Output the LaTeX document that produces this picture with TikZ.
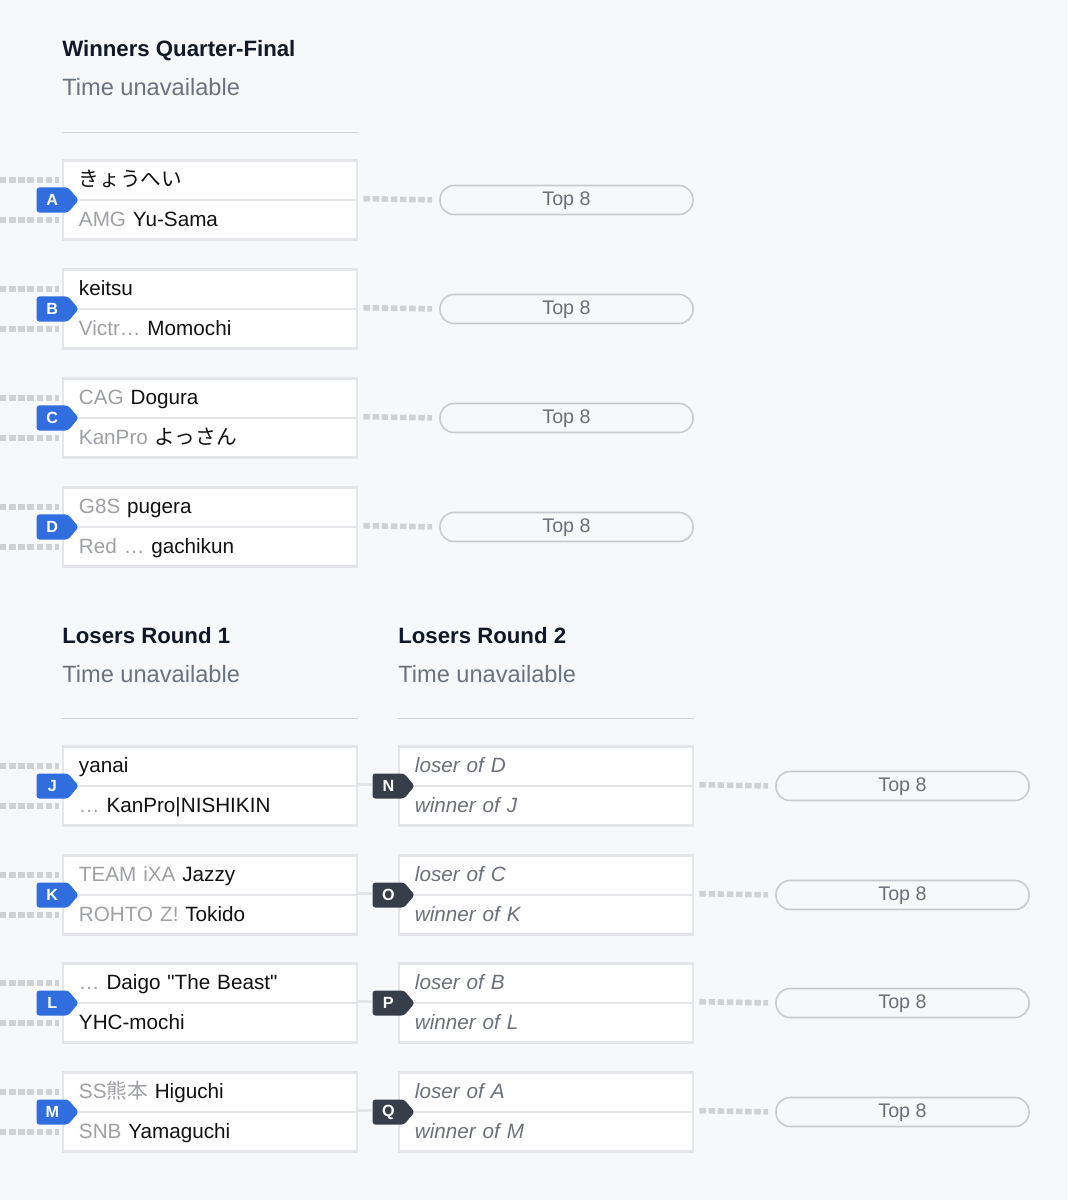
\documentclass[tikz,border=0pt]{standalone}
\usepackage{fontspec}
\setmainfont{Liberation Sans}
\newfontfamily\jpfont{Noto Sans CJK JP}
\newfontfamily\quotefont{Liberation Sans}
\usetikzlibrary{shapes.symbols, positioning}
\definecolor{bgpage}{RGB}{247, 248, 250}
\definecolor{boxline}{RGB}{228, 229, 232}
\definecolor{dashgray}{RGB}{208, 209, 212}
\definecolor{pillline}{RGB}{200, 202, 206}
\definecolor{pilltext}{RGB}{107, 112, 120}
\definecolor{headtext}{RGB}{17, 24, 39}
\definecolor{subtext}{RGB}{107, 114, 128}
\definecolor{rulegray}{RGB}{209, 213, 219}
\definecolor{badgeblue}{RGB}{48, 109, 223}
\definecolor{badgedark}{RGB}{55, 61, 73}
\definecolor{teamgray}{RGB}{158, 160, 165}
\definecolor{nametext}{RGB}{17, 17, 17}
\definecolor{italgray}{RGB}{108, 112, 120}

\begin{document}
\begin{tikzpicture}[x=0.025cm, y=-0.025cm,
  slot/.style={draw=boxline, line width=2pt, fill=white, text width=6.55cm, inner xsep=0.4cm, inner ysep=0pt, minimum height=0.9875cm, text height=11.5pt, text depth=2.5pt, align=left, text=nametext, font=\fontsize{14.7}{18}\selectfont},
  tbd/.style={slot, text=italgray, font=\itshape\fontsize{14.7}{18}\selectfont},
  tag/.style={signal, signal to=east, signal pointer angle=100, fill=badgeblue, text=white, rounded corners=2pt, minimum height=0.625cm, text width=0.55cm, align=center, inner xsep=1.2mm, inner ysep=0pt, anchor=east, font=\bfseries\fontsize{11.5}{12}\selectfont},
  tagdark/.style={tag, fill=badgedark},
  next/.style={draw=pillline, line width=1.1pt, fill=bgpage, rounded corners=0.35cm, minimum width=6.325cm, minimum height=0.725cm, text height=10pt, text depth=2.2pt, inner ysep=0pt, text=pilltext, font=\fontsize{14}{16}\selectfont},
  head/.style={anchor=base west, inner sep=0pt, text=headtext, font=\bfseries\fontsize{15.8}{18}\selectfont},
  when/.style={anchor=base west, inner sep=0pt, text=subtext, font=\fontsize{16.8}{19}\selectfont},
  rule/.style={draw=rulegray, line width=1.2pt},
  feed/.style={draw=dashgray, line width=4pt, dash pattern=on 4.6pt off 1.9pt},
  link/.style={draw=boxline, line width=2pt}
]
  \useasboundingbox (0,0) rectangle (1067,1200);
  \fill[bgpage] (0,0) rectangle (1067,1200);

  % headings
  \node[head] (wqf-title) at (62,57) {Winners Quarter-Final};
  \node[when] (wqf-time) at (62,96) {Time unavailable};
  \draw[rule] (62,132.5) -- (358,132.5);
  \node[head] (lr1-title) at (62,643) {Losers Round 1};
  \node[when] (lr1-time) at (62,682) {Time unavailable};
  \draw[rule] (62,718.5) -- (358,718.5);
  \node[head] (lr2-title) at (398,643) {Losers Round 2};
  \node[when] (lr2-time) at (398,682) {Time unavailable};
  \draw[rule] (398,718.5) -- (694,718.5);

  % winners quarter-final
  \node[slot] (A-top) at (210,180.25) {{\jpfont きょうへい}};
  \node[slot] (A-bot) at (210,219.75) {{\color{teamgray}AMG} Yu-Sama};
  \node[tag] (A) at (79,200) {A};
  \node[next] (A-next) at (566.5,200) {Top 8};

  \node[slot] (B-top) at (210,289.25) {keitsu};
  \node[slot] (B-bot) at (210,328.75) {{\color{teamgray}Victr…} Momochi};
  \node[tag] (B) at (79,309) {B};
  \node[next] (B-next) at (566.5,309) {Top 8};

  \node[slot] (C-top) at (210,398.25) {{\color{teamgray}CAG} Dogura};
  \node[slot] (C-bot) at (210,437.75) {{\color{teamgray}KanPro} {\jpfont よっさん}};
  \node[tag] (C) at (79,418) {C};
  \node[next] (C-next) at (566.5,418) {Top 8};

  \node[slot] (D-top) at (210,507.25) {{\color{teamgray}G8S} pugera};
  \node[slot] (D-bot) at (210,546.75) {{\color{teamgray}Red …} gachikun};
  \node[tag] (D) at (79,527) {D};
  \node[next] (D-next) at (566.5,527) {Top 8};

  % losers round 1
  \node[slot] (J-top) at (210,766.25) {yanai};
  \node[slot] (J-bot) at (210,805.75) {{\color{teamgray}…} KanPro|NISHIKIN};
  \node[tag] (J) at (79,786) {J};

  \node[slot] (K-top) at (210,875.25) {{\color{teamgray}TEAM iXA} Jazzy};
  \node[slot] (K-bot) at (210,914.75) {{\color{teamgray}ROHTO Z!} Tokido};
  \node[tag] (K) at (79,895) {K};

  \node[slot] (L-top) at (210,983.25) {{\color{teamgray}…} Daigo {\quotefont"}The Beast{\quotefont"}};
  \node[slot] (L-bot) at (210,1022.75) {YHC-mochi};
  \node[tag] (L) at (79,1003) {L};

  \node[slot] (M-top) at (210,1092.25) {{\color{teamgray}SS{\jpfont 熊本}} Higuchi};
  \node[slot] (M-bot) at (210,1131.75) {{\color{teamgray}SNB} Yamaguchi};
  \node[tag] (M) at (79,1112) {M};

  % losers round 2
  \node[tbd] (N-top) at (546,766.25) {loser of D};
  \node[tbd] (N-bot) at (546,805.75) {winner of J};
  \node[tagdark] (N) at (415,786) {N};
  \node[next] (N-next) at (902.5,786) {Top 8};

  \node[tbd] (O-top) at (546,875.25) {loser of C};
  \node[tbd] (O-bot) at (546,914.75) {winner of K};
  \node[tagdark] (O) at (415,895) {O};
  \node[next] (O-next) at (902.5,895) {Top 8};

  \node[tbd] (P-top) at (546,983.25) {loser of B};
  \node[tbd] (P-bot) at (546,1022.75) {winner of L};
  \node[tagdark] (P) at (415,1003) {P};
  \node[next] (P-next) at (902.5,1003) {Top 8};

  \node[tbd] (Q-top) at (546,1092.25) {loser of A};
  \node[tbd] (Q-bot) at (546,1131.75) {winner of M};
  \node[tagdark] (Q) at (415,1112) {Q};
  \node[next] (Q-next) at (902.5,1112) {Top 8};

  % incoming feeds
  \foreach \m/\d in {A/200, B/309, C/418, D/527, J/786, K/895, L/1003, M/1112} {
    \coordinate (\m-in1) at (0,\d-20);
    \coordinate (\m-in2) at (0,\d+20);
    \draw[feed, shorten >=0.075cm] (\m-in1) -- (\m-top.west |- \m-in1);
    \draw[feed, shorten >=0.075cm] (\m-in2) -- (\m-bot.west |- \m-in2);
  }

  % outgoing connectors
  \foreach \m in {A, B, C, D, N, O, P, Q}
    \draw[feed, shorten <=0.125cm, shorten >=0.175cm] (\m-bot.north east) -- (\m-next.west);
  \foreach \m/\n in {J/N, K/O, L/P, M/Q}
    \draw[link] (\m-bot.north east) -- (\m-bot.north east -| \n.west);
\end{tikzpicture}
\end{document}
